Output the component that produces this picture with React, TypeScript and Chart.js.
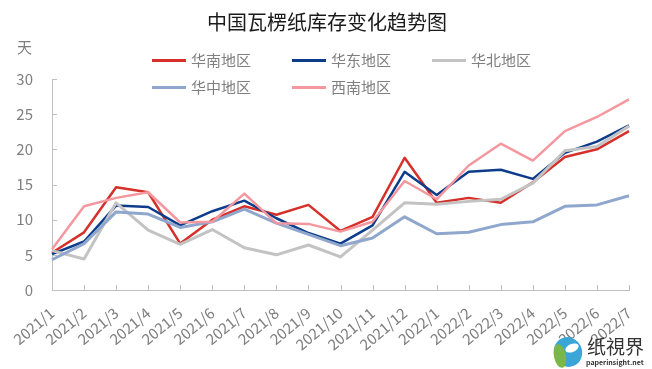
import React, { useEffect, useRef } from "react";
import { Chart, registerables } from "chart.js";

Chart.register(...registerables);

const categories = [
  "2021/1", "2021/2", "2021/3", "2021/4", "2021/5", "2021/6", "2021/7", "2021/8", "2021/9", "2021/10",
  "2021/11", "2021/12", "2022/1", "2022/2", "2022/3", "2022/4", "2022/5", "2022/6", "2022/7",
];
const southChina = [5.3, 8.2, 14.6, 13.9, 6.6, 10.0, 11.9, 10.7, 12.1, 8.4, 10.4, 18.8, 12.4, 13.1, 12.4, 15.3, 18.9, 20.0, 22.6];
const eastChina = [5.1, 6.9, 12.0, 11.8, 9.2, 11.2, 12.7, 10.2, 8.1, 6.6, 9.2, 16.8, 13.5, 16.8, 17.1, 15.8, 19.5, 21.1, 23.4];
const northChina = [5.6, 4.4, 12.4, 8.5, 6.5, 8.6, 6.0, 5.0, 6.4, 4.7, 8.5, 12.4, 12.2, 12.6, 12.9, 15.2, 19.8, 20.4, 23.3];
const centralChina = [4.3, 6.6, 11.1, 10.8, 8.9, 9.7, 11.5, 9.5, 7.9, 6.3, 7.4, 10.4, 8.0, 8.2, 9.3, 9.7, 11.9, 12.1, 13.4];
const southwestChina = [5.8, 11.9, 13.1, 13.9, 9.6, 9.7, 13.7, 9.5, 9.4, 8.3, 9.7, 15.5, 12.9, 17.7, 20.8, 18.4, 22.6, 24.6, 27.1];

const seriesNames = ["华南地区", "华东地区", "华北地区", "华中地区", "西南地区"];
const seriesColors = ["#D5312A", "#0D3D8A", "#C3C3C3", "#8FA7CD", "#F4979E"];
const seriesWidths = [2.5, 2.5, 3, 3, 2.5];

const title = "中国瓦楞纸库存变化趋势图";
const yUnit = "天";
const yMin = 0;
const yMax = 30;
const yStep = 5;

const FONT = '"Noto Sans CJK SC", "Noto Sans", sans-serif';
const GRAY = "#7f7f7f";
const AXIS = "#bfbfbf";

const decorPlugin = {
  id: "decor",
  afterDraw(chart: any) {
    const { ctx, chartArea, scales } = chart;
    const xs = scales.x;
    const ys = scales.y;
    ctx.save();
    // inward ticks
    ctx.strokeStyle = AXIS;
    ctx.lineWidth = 1;
    ctx.beginPath();
    ys.ticks.forEach((t: any) => {
      const py = Math.round(ys.getPixelForValue(t.value)) + 0.5;
      ctx.moveTo(chartArea.left, py);
      ctx.lineTo(chartArea.left + 5, py);
    });
    categories.forEach((_, i) => {
      const px = Math.round(xs.getPixelForValue(i)) + 0.5;
      ctx.moveTo(px, chartArea.bottom);
      ctx.lineTo(px, chartArea.bottom - 5);
    });
    ctx.stroke();

    // title
    ctx.fillStyle = "#1a1a1a";
    ctx.font = `20px ${FONT}`;
    ctx.textAlign = "center";
    ctx.textBaseline = "middle";
    ctx.fillText(title, 327, 22);

    // unit
    ctx.fillStyle = GRAY;
    ctx.font = `15px ${FONT}`;
    ctx.textAlign = "left";
    ctx.fillText(yUnit, 17, 47);

    // legend
    const cols = [152, 292, 432];
    const rows = [60, 87];
    seriesNames.forEach((name, i) => {
      const cx = cols[i % 3];
      const cy = rows[Math.floor(i / 3)];
      ctx.strokeStyle = seriesColors[i];
      ctx.lineWidth = 3;
      ctx.beginPath();
      ctx.moveTo(cx, cy + 0.5);
      ctx.lineTo(cx + 34, cy + 0.5);
      ctx.stroke();
      ctx.fillStyle = GRAY;
      ctx.font = `15px ${FONT}`;
      ctx.textAlign = "left";
      ctx.textBaseline = "middle";
      ctx.fillText(name, cx + 39, cy);
    });

    // watermark
    ctx.fillStyle = "#3aa6d8";
    ctx.beginPath();
    ctx.ellipse(568, 352, 14, 15, -0.4, 0, Math.PI * 2);
    ctx.fill();
    ctx.fillStyle = "#7ab648";
    ctx.beginPath();
    ctx.ellipse(560, 356, 6, 12, -0.2, 0, Math.PI * 2);
    ctx.fill();
    ctx.fillStyle = "#ffffff";
    ctx.beginPath();
    ctx.ellipse(572, 348, 7, 4, -0.4, 0, Math.PI * 2);
    ctx.fill();
    ctx.fillStyle = "#333333";
    ctx.font = `19px ${FONT}`;
    ctx.textAlign = "left";
    ctx.textBaseline = "middle";
    ctx.fillText("纸視界", 587, 347);
    ctx.font = `bold 7px ${FONT}`;
    ctx.fillText("paperinsight.net", 586, 362);
    ctx.restore();
  },
};

export default function App() {
  const ref = useRef<HTMLCanvasElement | null>(null);
  useEffect(() => {
    if (!ref.current) return;
    const datasets = [southChina, eastChina, northChina, centralChina, southwestChina].map((d, i) => ({
      label: seriesNames[i],
      data: d,
      borderColor: seriesColors[i],
      backgroundColor: seriesColors[i],
      borderWidth: seriesWidths[i],
      pointRadius: 0,
      tension: 0,
      fill: false,
      borderJoinStyle: "round" as const,
      order: 10 - i,
    }));
    const chart = new Chart(ref.current, {
      type: "line",
      data: { labels: categories, datasets },
      options: {
        animation: false,
        responsive: false,
        maintainAspectRatio: false,
        layout: { padding: { left: 0, top: 79, right: 23, bottom: 0 } },
        plugins: { legend: { display: false }, title: { display: false }, tooltip: { enabled: false } },
        scales: {
          x: {
            offset: false,
            grid: { display: false },
            border: { display: true, color: AXIS, width: 1 },
            ticks: {
              autoSkip: false,
              maxRotation: 40,
              minRotation: 40,
              color: GRAY,
              padding: 6,
              font: { family: FONT, size: 15 },
            },
            afterFit: (s: any) => {
              s.height = 79;
            },
          },
          y: {
            min: yMin,
            max: yMax,
            grid: { display: false },
            border: { display: true, color: AXIS, width: 1 },
            ticks: {
              stepSize: yStep,
              color: GRAY,
              padding: 11,
              font: { family: FONT, size: 15 },
            },
            afterFit: (s: any) => {
              s.width = 52;
            },
          },
        },
      },
      plugins: [decorPlugin],
    });
    return () => chart.destroy();
  }, []);
  return (
    <div style={{ position: "fixed", left: 0, top: 0, width: 652, height: 369, background: "#fff" }}>
      <canvas ref={ref} width={652} height={369} style={{ width: 652, height: 369, display: "block" }} />
    </div>
  );
}
